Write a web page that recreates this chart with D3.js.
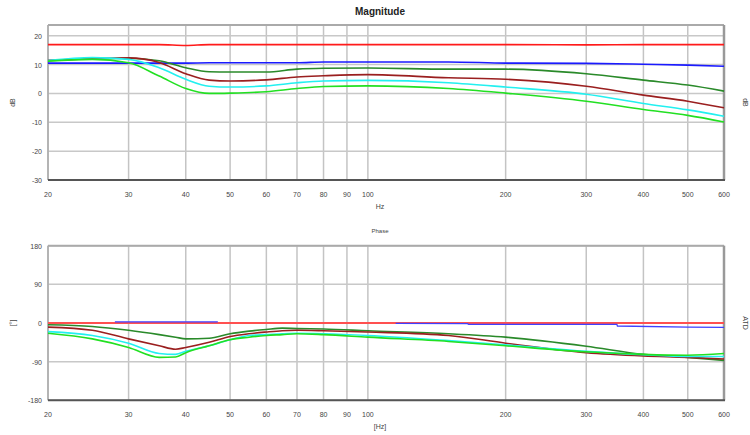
<!DOCTYPE html>
<html><head><meta charset="utf-8">
<script src="https://cdn.jsdelivr.net/npm/d3@7"></script>
<style>body{margin:0;background:#fff}svg{display:block}text{font-family:"Liberation Sans",Arial,sans-serif}</style>
</head><body><svg id="c" width="750" height="435"></svg>
<script>
const xTicks = [20,30,40,50,60,70,80,90,100,200,300,400,500,600];
const magTicks = [20,10,0,-10,-20,-30];
const phTicks = [180,90,0,-90,-180];

const magFreq = [20,25,30,35,40,45,50,60,70,80,100,150,200,300,400,500,600];
const magRed    = [16.9,16.9,16.9,16.9,16.6,16.9,16.9,16.9,16.9,16.9,16.9,16.9,16.9,16.8,16.9,16.9,16.9];
const magBlue   = [10.5,10.5,10.5,10.5,10.5,10.6,10.6,10.6,10.6,10.9,10.9,10.9,10.5,10.4,10.1,9.8,9.4];
const magDkGreen= [11.3,12.0,12.2,11.3,8.9,7.5,7.4,7.4,8.4,8.7,8.8,8.4,8.4,6.8,4.6,2.9,0.8];
const magDkRed  = [11.5,12.0,12.3,10.7,6.8,4.6,4.3,4.7,5.7,6.1,6.5,5.4,4.9,2.5,-0.6,-2.7,-5.0];
const magCyan   = [11.4,12.4,11.8,8.9,4.9,2.5,2.2,2.6,3.7,4.3,4.5,3.7,2.2,-0.3,-3.5,-5.7,-7.9];
const magGreen  = [11.2,11.8,10.6,6.0,1.7,0.0,0.1,0.6,1.7,2.4,2.6,1.7,0.1,-2.7,-5.6,-7.6,-9.9];

const phFreq = [20,25,30,35,38,40,45,50,55,60,65,70,80,100,150,200,300,400,500,600];
const phRed    = [0,0,0,0,0,0,0,0,0,0,0,0,0,0,0,0,0,0,0,0];
const phDkGreen= [-4,-8,-17,-27,-33,-37,-35.5,-25,-19,-15,-12,-13,-14,-18,-25,-33,-54,-73,-80,-87];
const phDkRed  = [-9.5,-17,-37,-53,-61,-57,-45,-31.5,-25,-21,-18,-17,-18,-21,-29,-47,-69,-76.5,-80,-84];
const phCyan   = [-20,-29,-47,-71,-73,-66,-53,-39,-29,-27,-25,-24,-25,-29,-41,-51,-66,-74,-78,-78];
const phGreen  = [-24,-37,-57,-80,-79,-69,-53,-39,-33,-29,-27,-25,-27,-33,-43,-53,-67,-73,-75,-71];
// blue phase is hidden under red (null = not visible) except where it departs from it
const phBlueFreq = [28,47,48,115,165,166,350,351,500,600];
const phBlue     = [2.5,2.5,null,-1,-1.5,-3,-3,-7,-9.5,-10];

const svg = d3.select("#c");
const L = 48, R = 724;
const x = d3.scaleLog().domain([20,600]).range([L,R]);

function panel(opt){
  const y = d3.scaleLinear().domain(opt.dom).range([opt.bottom,opt.top]);
  const g = svg.append("g");
  g.selectAll(".vg").data(xTicks).join("line")
    .attr("x1",d=>x(d)).attr("x2",d=>x(d)).attr("y1",opt.top).attr("y2",opt.bottom)
    .attr("stroke","#c4c4c4").attr("stroke-width",1.5);
  g.selectAll(".hg").data(opt.ticks).join("line")
    .attr("x1",L).attr("x2",R).attr("y1",d=>y(d)).attr("y2",d=>y(d))
    .attr("stroke",opt.gridCol).attr("stroke-width",opt.gridW);
  g.append("line").attr("x1",L).attr("x2",R).attr("y1",opt.top).attr("y2",opt.top).attr("stroke","#aaa").attr("stroke-width",2);
  g.append("line").attr("x1",R).attr("x2",R).attr("y1",opt.top).attr("y2",opt.bottom).attr("stroke","#999").attr("stroke-width",2.5);
  g.append("line").attr("x1",L).attr("x2",L).attr("y1",opt.top).attr("y2",opt.bottom).attr("stroke","#aaa").attr("stroke-width",1.5);
  g.append("line").attr("x1",L).attr("x2",R+1).attr("y1",opt.bottom).attr("y2",opt.bottom).attr("stroke","#555").attr("stroke-width",2);
  g.selectAll(".yl").data(opt.ticks).join("text")
    .attr("x",42).attr("y",d=>y(d)+3).attr("text-anchor","end")
    .attr("font-size",7).attr("fill","#444").text(d=>d);
  g.selectAll(".xl").data(xTicks).join("text")
    .attr("x",d=>x(d)).attr("y",opt.bottom+17).attr("text-anchor","middle")
    .attr("font-size",7).attr("fill","#444").text(d=>d);
  g.append("text").attr("x",380).attr("y",opt.bottom+29).attr("text-anchor","middle")
    .attr("font-size",7).attr("fill","#444").text(opt.xLabel);
  g.append("text").attr("transform",`translate(15,${(opt.top+opt.bottom)/2}) rotate(-90)`)
    .attr("text-anchor","middle").attr("font-size",7).attr("fill","#444").text(opt.yLabel);
  g.append("text").attr("transform",`translate(743,${(opt.top+opt.bottom)/2}) rotate(90)`)
    .attr("text-anchor","middle").attr("font-size",7).attr("fill","#444").text(opt.rLabel);
  opt.series.forEach(s=>{
    const ln = d3.line().defined(d=>d[1]!=null).x(d=>x(d[0])).y(d=>y(d[1]))
      .curve(s.step ? d3.curveLinear : d3.curveMonotoneX);
    g.append("path").datum(s.f.map((f,i)=>[f,s.v[i]]))
      .attr("d",ln).attr("fill","none").attr("stroke",s.c).attr("stroke-width",s.w||1.6);
  });
}

svg.append("text").attr("x",380).attr("y",15).attr("text-anchor","middle")
  .attr("font-size",10).attr("font-weight","bold").attr("fill","#222").text("Magnitude");
svg.append("text").attr("x",380).attr("y",233).attr("text-anchor","middle")
  .attr("font-size",6).attr("fill","#444").text("Phase");

panel({dom:[-30,23.7], top:25, bottom:180, ticks:magTicks, gridCol:"#c8c8c8", gridW:1.5,
  xLabel:"Hz", yLabel:"dB", rLabel:"dB",
  series:[
    {f:magFreq,v:magRed,c:"#ff1a1a"},
    {f:magFreq,v:magBlue,c:"#1a1aff"},
    {f:magFreq,v:magDkGreen,c:"#2a8a2a"},
    {f:magFreq,v:magDkRed,c:"#9a1f1f"},
    {f:magFreq,v:magCyan,c:"#22f0f0"},
    {f:magFreq,v:magGreen,c:"#22e022"}
  ]});

panel({dom:[-180,180], top:245.7, bottom:400.3, ticks:phTicks, gridCol:"#c8c8c8", gridW:1.5,
  xLabel:"[Hz]", yLabel:"[°]", rLabel:"ATD",
  series:[
    {f:phFreq,v:phRed,c:"#ff5050",w:2},
    {f:phBlueFreq,v:phBlue,c:"#4040ff",w:1.3,step:true},
    {f:phFreq,v:phDkGreen,c:"#2a8a2a"},
    {f:phFreq,v:phDkRed,c:"#9a1f1f"},
    {f:phFreq,v:phCyan,c:"#22f0f0"},
    {f:phFreq,v:phGreen,c:"#22e022"}
  ]});
</script></body></html>
